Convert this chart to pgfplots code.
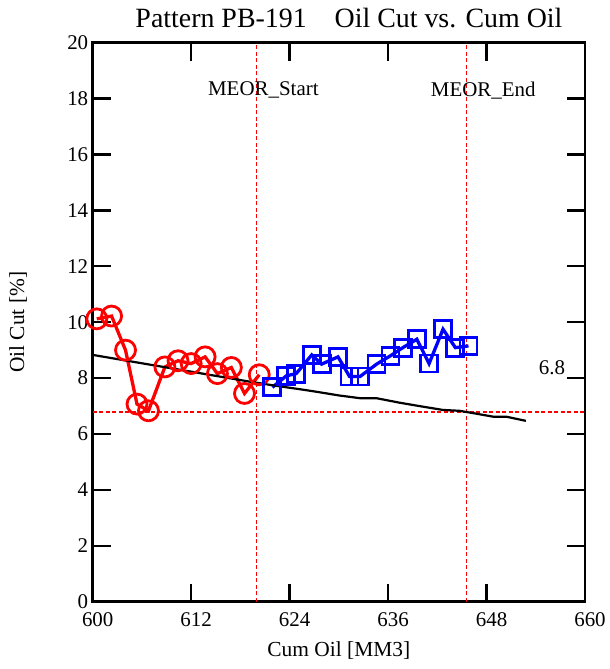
\documentclass[border=0pt]{standalone}
\usepackage{pgfplots}
\pgfplotsset{compat=1.18}
\usepackage{fontspec}
\setmainfont{Liberation Serif}
\definecolor{refline}{RGB}{255,0,0}
\begin{document}
\begin{tikzpicture}
\begin{axis}[
  name=ax,
  scale only axis,
  width=492.3bp, height=559bp,
  xmin=600, xmax=660, ymin=0, ymax=20,
  xtick={600,612,...,660}, ytick={0,2,...,20},
  tick align=inside,
  major tick length=18bp,
  axis line style={line width=2.5bp},
  tick style={line width=2.4bp, black},
  tick label style={font=\fontsize{21}{24}\selectfont},
  /pgf/number format/assume math mode=true,
  xticklabel style={xshift=5bp, yshift=-7bp},
  yticklabel style={xshift=-1bp},
  clip=false,
]
\addplot[color=refline, line width=1.2bp, dash pattern=on 4bp off 2.5bp] coordinates {(620.0,0) (620.0,20)};
\addplot[color=refline, line width=1.2bp, dash pattern=on 4bp off 2.5bp] coordinates {(645.6,0) (645.6,20)};
\addplot[color=refline, line width=1.2bp, dash pattern=on 4bp off 2.5bp] coordinates {(600,6.787) (660,6.787)};

\addplot[red, line width=3.3bp, mark=o, mark size=10bp, mark options={line width=2.8bp, solid}] coordinates {
(600.5,10.12) (602.3,10.22) (604.0,9.00) (605.4,7.07) (606.8,6.83) (608.8,8.40)
(610.4,8.62) (612.0,8.52) (613.7,8.76) (615.2,8.16) (616.9,8.38) (618.5,7.45) (620.3,8.12)
};
\addplot[blue, line width=3.3bp, mark=square, mark size=8.5bp, mark options={line width=2.8bp, solid}] coordinates {
(621.9,7.67) (623.6,8.08) (624.8,8.16) (626.7,8.83) (627.9,8.50) (629.9,8.76)
(631.3,8.06) (632.6,8.06) (634.6,8.50) (636.3,8.80) (637.8,9.09) (639.5,9.39)
(641.0,8.52) (642.7,9.75) (644.2,9.09) (645.8,9.15)
};
\addplot[black, line width=2.2bp] coordinates {
(600,8.83) (605,8.58) (610,8.33) (615,8.08) (619.2,7.87) (622,7.74) (625.3,7.60)
(627.3,7.51) (630,7.38) (632.6,7.28) (634.6,7.28) (637.4,7.12) (640,6.99)
(642.7,6.86) (644.7,6.83) (646.5,6.74) (648.8,6.62) (650.4,6.62) (652.8,6.47)
};

\node[font=\fontsize{21}{24}\selectfont] at (axis cs:620.8,18.3) {MEOR\_Start};
\node[font=\fontsize{21}{24}\selectfont] at (axis cs:647.6,18.3) {MEOR\_End};
\node[font=\fontsize{21}{24}\selectfont, anchor=east] at (axis cs:658.0,8.36) {6.8};
\node[font=\fontsize{28}{32}\selectfont] at (axis description cs:0.5206,1.0442) {Pattern PB-191\quad Oil Cut vs. Cum Oil};
\node[font=\fontsize{21.5}{24}\selectfont] at (axis description cs:0.5,-0.0877) {Cum Oil [MM3]};
\node[font=\fontsize{21.5}{24}\selectfont, rotate=90] at (axis description cs:-0.1517,0.5) {Oil Cut [\%]};
\end{axis}
\pgfresetboundingbox
\path ([shift={(-92.7bp,-67.3bp)}]ax.south west) rectangle ([shift={(25bp,42.7bp)}]ax.north east);
\end{tikzpicture}
\end{document}
